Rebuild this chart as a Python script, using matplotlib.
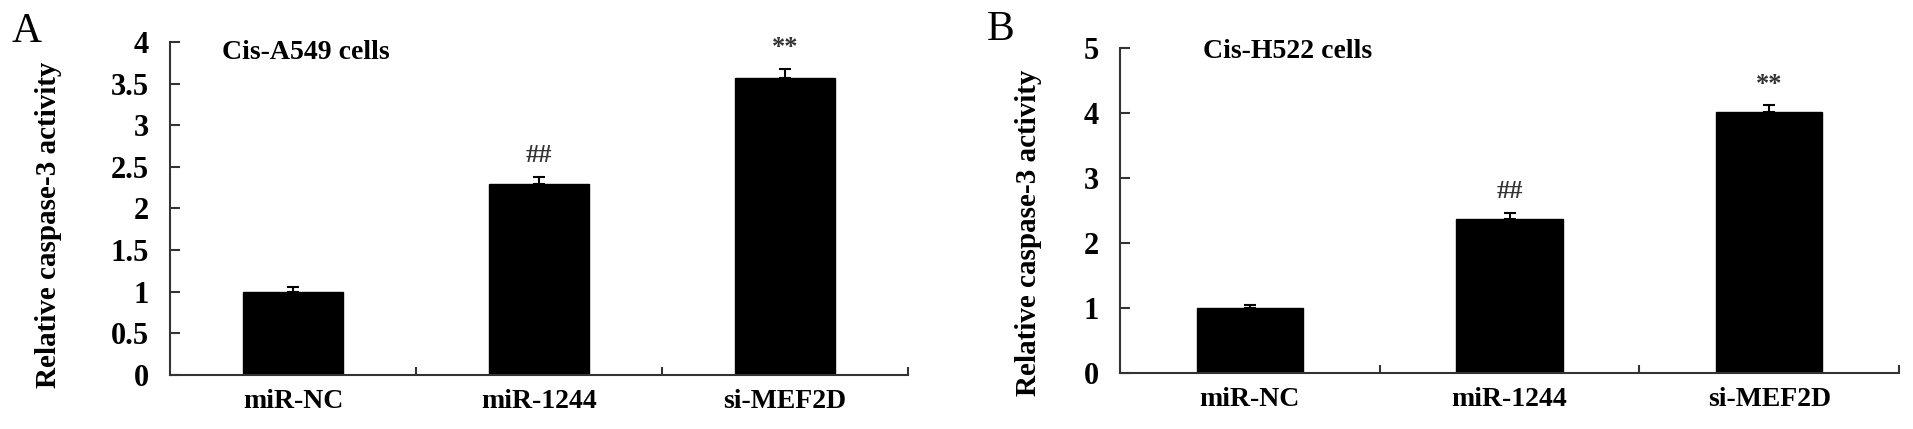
import numpy as np
import matplotlib.pyplot as plt

plt.rcParams.update({
    'font.family': 'Liberation Serif',
    'font.weight': 'bold',
    'axes.linewidth': 1.5,
})

groups = ['miR-NC', 'miR-1244', 'si-MEF2D']

a549_mean = [1.0, 2.29, 3.57]
a549_err = [0.06, 0.09, 0.11]
a549_marks = ['', '##', '**']

h522_mean = [1.0, 2.37, 4.02]
h522_err = [0.05, 0.09, 0.10]
h522_marks = ['', '##', '**']

a549_yticks = [0, 0.5, 1, 1.5, 2, 2.5, 3, 3.5, 4]
a549_yticklabels = ['0', '0.5', '1', '1.5', '2', '2.5', '3', '3.5', '4']
h522_yticks = [0, 1, 2, 3, 4, 5]

fig = plt.figure(figsize=(19.13, 4.29), dpi=100)
axA = fig.add_axes([0.0889, 0.126, 0.3857, 0.776])
axB = fig.add_axes([0.5855, 0.1305, 0.4072, 0.7575])

axis_color = '#333333'


def draw_panel(ax, means, errs, marks, yticks, ylabels, ymax, title, title_pos, ylab_pos):
    x = np.arange(len(groups))
    ax.bar(x, means, width=0.41, color='black', edgecolor='black', zorder=2)
    ax.errorbar(x, means, yerr=[np.zeros(len(errs)), errs], fmt='none',
                ecolor='black', elinewidth=1.5, capsize=4.5, capthick=1.5, zorder=3)
    for xi, m, e, s in zip(x, means, errs, marks):
        if s:
            ax.annotate(s, (xi, m + e), xytext=(0, 7), textcoords='offset points',
                        ha='center', va='bottom', fontsize=19, color='#333333',
                        fontweight='bold')
    ax.set_xlim(-0.5, len(groups) - 0.5)
    ax.set_ylim(0, ymax)
    ax.set_xticks(x)
    ax.set_xticklabels(groups, fontsize=20, fontweight='bold')
    ax.set_xticks(np.arange(len(groups)) + 0.5, minor=True)
    ax.tick_params(axis='x', which='major', length=0, pad=10)
    ax.tick_params(axis='x', which='minor', direction='in', length=6, width=1.5, color=axis_color)
    ax.set_yticks(yticks)
    ax.set_yticklabels(ylabels, fontsize=22, fontweight='bold')
    ax.tick_params(axis='y', direction='in', length=7, width=1.5, color=axis_color, pad=15)
    ax.set_ylabel('Relative caspase-3 activity', fontsize=21, fontweight='bold')
    ax.yaxis.set_label_coords(*ylab_pos)
    ax.spines['top'].set_visible(False)
    ax.spines['right'].set_visible(False)
    ax.spines['left'].set_color(axis_color)
    ax.spines['bottom'].set_color(axis_color)
    ax.text(title_pos[0], title_pos[1], title, transform=ax.transAxes, ha='left', va='center',
            fontsize=20, fontweight='bold')


draw_panel(axA, a549_mean, a549_err, a549_marks, a549_yticks, a549_yticklabels, 4,
           'Cis-A549 cells', (0.07, 0.97), (-0.146, 0.45))
draw_panel(axB, h522_mean, h522_err, h522_marks, h522_yticks,
           [str(t) for t in h522_yticks], 5, 'Cis-H522 cells', (0.107, 0.988), (-0.100, 0.43))

fig.text(0.006, 0.925, 'A', fontsize=30, fontweight='normal', ha='left', va='center')
fig.text(0.516, 0.93, 'B', fontsize=30, fontweight='normal', ha='left', va='center')

fig.savefig('out.png', dpi=100)
